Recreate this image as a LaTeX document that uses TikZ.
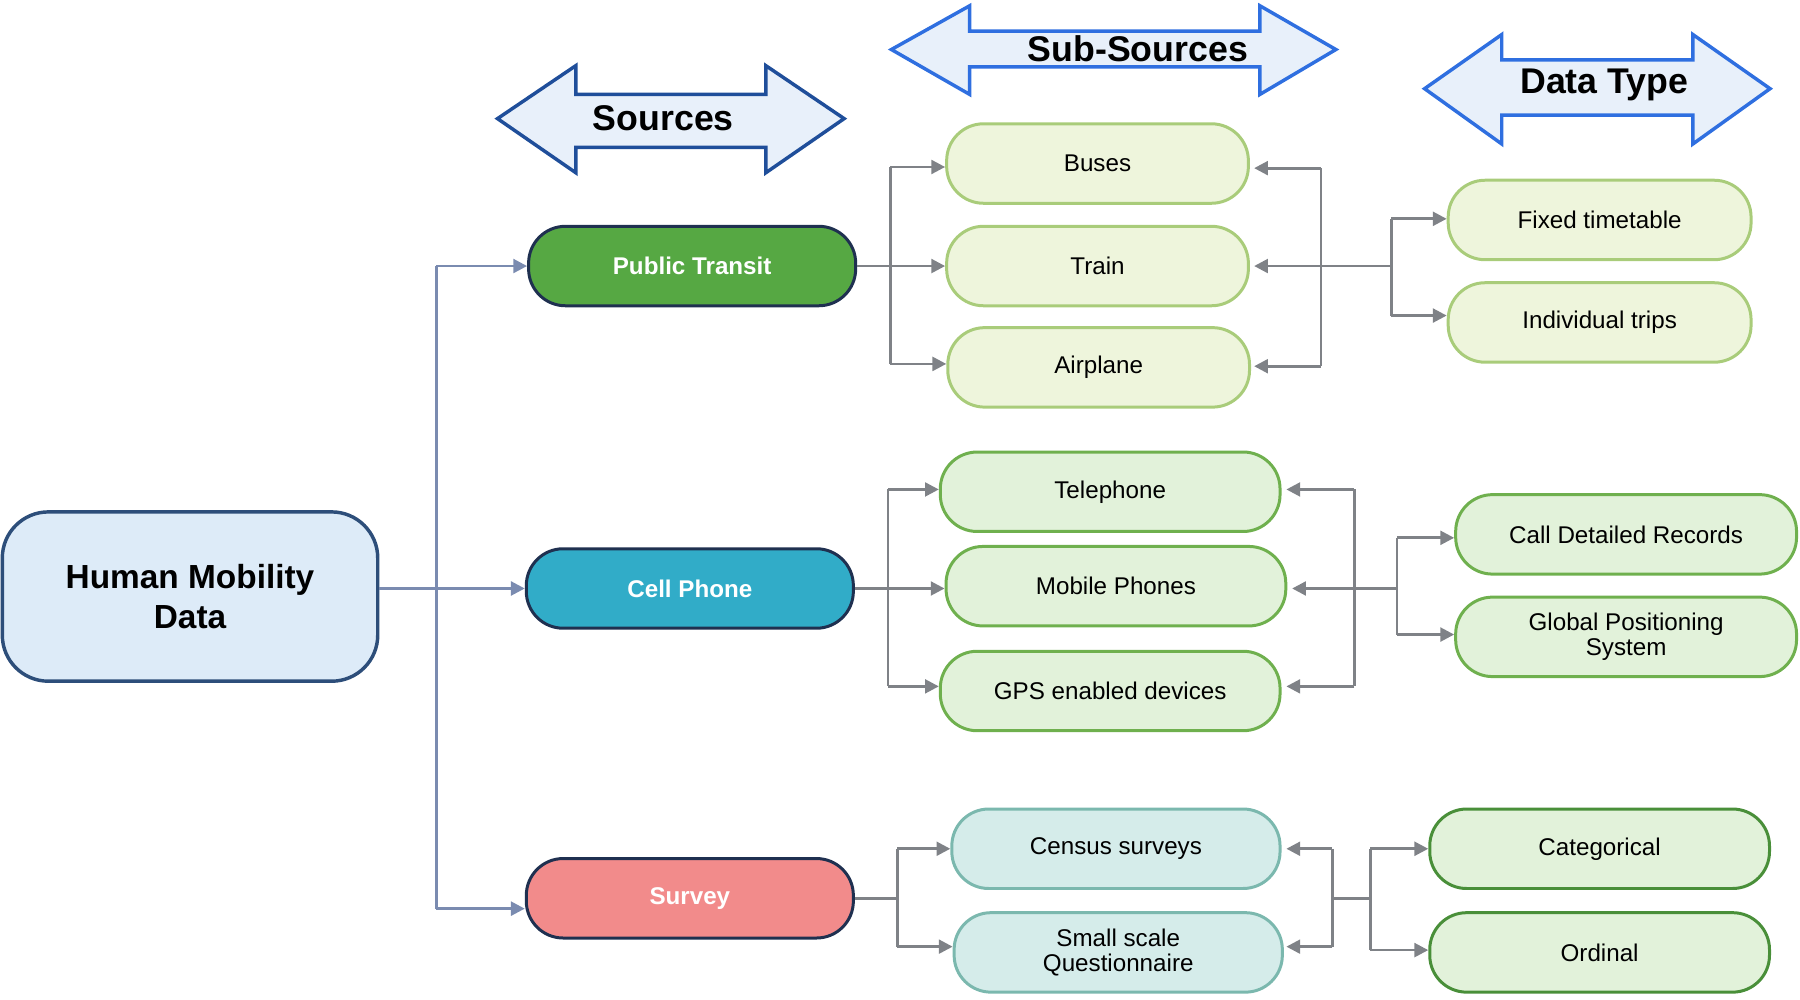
\documentclass[tikz,border=0pt]{standalone}
\usepackage{fontspec}
\setmainfont{Liberation Sans}
\usetikzlibrary{arrows.meta}
\definecolor{hbg}{HTML}{DDEBF8}\definecolor{hdr}{HTML}{2D4E7A}
\definecolor{navy}{HTML}{1F3050}
\definecolor{ptc}{HTML}{56A843}\definecolor{cpc}{HTML}{31ACC8}\definecolor{svc}{HTML}{F28B8B}
\definecolor{lgA}{HTML}{EEF5DC}\definecolor{lgAd}{HTML}{A9CC7A}
\definecolor{lgB}{HTML}{E2F2DA}\definecolor{lgBd}{HTML}{6FB04E}
\definecolor{lt}{HTML}{D5ECEA}\definecolor{ltd}{HTML}{7BB8AE}
\definecolor{conA}{HTML}{7A8BB0}\definecolor{con}{HTML}{7F8287}
\definecolor{arrf}{HTML}{E8F0FA}\definecolor{arrd1}{HTML}{1F4E9A}\definecolor{arrd2}{HTML}{2F6FE0}
\begin{document}
\begin{tikzpicture}[x=0.5pt,y=-0.5pt,
 box/.style={rounded corners=16pt,minimum height=34.5pt,line width=1.3pt,align=center,font=\fontsize{10.5}{11}\selectfont,inner sep=0pt},
 src/.style={box,draw=navy,text=white,font=\bfseries\fontsize{10.5}{11}\selectfont,minimum width=142pt},
 sa/.style={box,fill=lgA,draw=lgAd},
 sb/.style={box,fill=lgB,draw=lgBd},
 sc/.style={box,fill=lt,draw=ltd},
 ln/.style={con,line width=1.2pt},
 ar/.style={ln,-{Triangle[length=6pt,width=6pt]}},
 lnA/.style={conA,line width=1.2pt},
 arA/.style={lnA,-{Triangle[length=6pt,width=6pt]}},
 dbl/.style={fill=arrf,line width=1.5pt,line join=miter},
 ttl/.style={font=\bfseries\fontsize{15.5}{16}\selectfont}]
\useasboundingbox (0,0) rectangle (1563,868);
% title arrows
\draw[dbl,draw=arrd1] (432,103)--(500,57)--(500,82)--(665,82)--(665,57)--(733,103)--(665,150)--(665,128)--(500,128)--(500,150)--cycle;
\node[ttl] (t1) at (576,103) {Sources};
\draw[dbl,draw=arrd2] (774,43)--(842,5)--(842,27)--(1094,27)--(1094,5)--(1160,43)--(1094,82)--(1094,58)--(842,58)--(842,82)--cycle;
\node[ttl] (t2) at (988,42) {Sub-Sources};
\draw[dbl,draw=arrd2] (1237,77)--(1304,30)--(1304,52)--(1470,52)--(1470,30)--(1537,77)--(1470,125)--(1470,100)--(1304,100)--(1304,125)--cycle;
\node[ttl] (t3) at (1393,74) {Data Type};
% nodes
\node[box,fill=hbg,draw=hdr,minimum width=163pt,minimum height=73.5pt,rounded corners=20pt,font=\bfseries\fontsize{14.5}{17}\selectfont,line width=1.5pt] (hm) at (165,518) {Human Mobility\\Data};
\node[src,fill=ptc] (pt) at (601,231) {Public Transit};
\node[src,fill=cpc] (cp) at (599,511) {Cell Phone};
\node[src,fill=svc] (sv) at (599,780) {Survey};
\node[sa,minimum width=131pt] (bus) at (953,142) {Buses};
\node[sa,minimum width=131pt] (tr) at (953,231) {Train};
\node[sa,minimum width=131pt] (ap) at (954,319) {Airplane};
\node[sb,minimum width=147.5pt] (tel) at (964,427) {Telephone};
\node[sb,minimum width=147.5pt] (mob) at (969,509) {Mobile Phones};
\node[sb,minimum width=147.5pt] (gps) at (964,600) {GPS enabled devices};
\node[sc,minimum width=142.5pt] (cen) at (969,737) {Census surveys};
\node[sc,minimum width=142.5pt] (ssq) at (971,827) {Small scale\\Questionnaire};
\node[sa,minimum width=131.5pt] (ft) at (1389,191) {Fixed timetable};
\node[sa,minimum width=131.5pt] (it) at (1389,280) {Individual trips};
\node[sb,minimum width=148pt] (cdr) at (1412,464) {Call Detailed Records};
\node[sb,minimum width=148pt] (gsys) at (1412,553) {Global Positioning\\System};
\node[sb,minimum width=147.5pt,draw=ptc!85!black] (cat) at (1389,737) {Categorical};
\node[sb,minimum width=147.5pt,draw=ptc!85!black] (ord) at (1389,827) {Ordinal};
% human -> sources
\coordinate (j0) at (379,511);
\draw[lnA] (hm.east|-j0) -- (j0);
\draw[arA] (j0|-pt) -- ++(0,0) -- (pt.west);
\draw[lnA] (j0|-pt) -- (379,789);
\draw[arA] (j0) -- (cp.west|-j0);
\draw[arA] (379,789) -- (sv.west|-0,789);
% public transit
\coordinate (a1) at (773,231);
\draw[ln] (pt.east) -- (a1);
\draw[ln] (773,145) -- (773,316);
\draw[ar] (773,145) -- (bus.west|-0,145);
\draw[ar] (a1) -- (tr.west);
\draw[ar] (773,316) -- (ap.west|-0,316);
\coordinate (b1) at (1147,231); \coordinate (c1) at (1208,231);
\draw[ln] (1147,146) -- (1147,318);
\draw[ar] (1147,146) -- (1089,146);
\draw[ar] (b1) -- (1089,231);
\draw[ar] (1147,318) -- (1089,318);
\draw[ln] (b1) -- (c1);
\draw[ln] (1208,190) -- (1208,274);
\draw[ar] (1208,190) -- (ft.west|-0,190);
\draw[ar] (1208,274) -- (it.west|-0,274);
% cell phone
\coordinate (a2) at (771,511);
\draw[ln] (cp.east) -- (a2);
\draw[ln] (771,425) -- (771,596);
\draw[ar] (771,425) -- (tel.west|-0,425);
\draw[ar] (a2) -- (mob.west|-a2);
\draw[ar] (771,596) -- (gps.west|-0,596);
\coordinate (b2) at (1176,511); \coordinate (c2) at (1213,511);
\draw[ln] (1176,425) -- (1176,596);
\draw[ar] (1176,425) -- (1117,425);
\draw[ar] (b2) -- (1122,511);
\draw[ar] (1176,596) -- (1117,596);
\draw[ln] (b2) -- (c2);
\draw[ln] (1213,467) -- (1213,551);
\draw[ar] (1213,467) -- (cdr.west|-0,467);
\draw[ar] (1213,551) -- (gsys.west|-0,551);
% survey
\coordinate (a3) at (779,780);
\draw[ln] (sv.east) -- (a3);
\draw[ln] (779,737) -- (779,822);
\draw[ar] (779,737) -- (cen.west|-0,737);
\draw[ar] (779,822) -- (ssq.west|-0,822);
\coordinate (b3) at (1157,780); \coordinate (c3) at (1190,780);
\draw[ln] (1157,737) -- (1157,822);
\draw[ar] (1157,737) -- (1117,737);
\draw[ar] (1157,822) -- (1117,822);
\draw[ln] (b3) -- (c3);
\draw[ln] (1190,737) -- (1190,825);
\draw[ar] (1190,737) -- (cat.west|-0,737);
\draw[ar] (1190,825) -- (ord.west|-0,825);
\end{tikzpicture}
\end{document}
